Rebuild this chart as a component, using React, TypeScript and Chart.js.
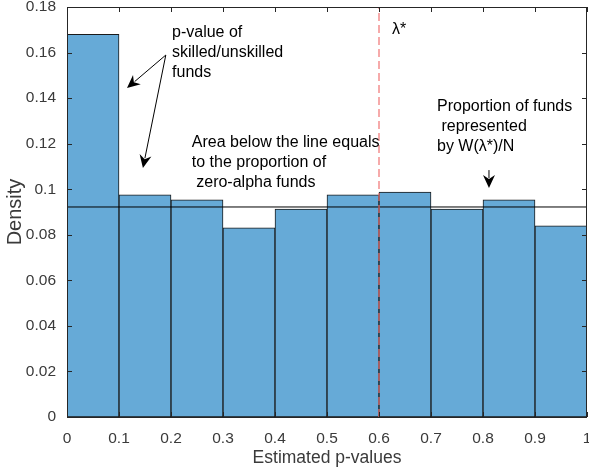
import React, { useEffect, useRef } from "react";
import { Chart, registerables } from "chart.js";

Chart.register(...registerables);

// ---- data ----
const binCenters = [0.05, 0.15, 0.25, 0.35, 0.45, 0.55, 0.65, 0.75, 0.85, 0.95];
const densities = [0.168, 0.0975, 0.0953, 0.083, 0.0913, 0.0975, 0.0988, 0.0913, 0.0953, 0.0839];
const zeroAlphaLevel = 0.0922;
const lambdaStar = 0.6;
const xTickRange = [0, 1];
const yTickRange = [0, 0.18];
const xTickStep = 0.1;
const yTickStep = 0.02;

// annotations in data coordinates
const textNotes = [
  { x: 0.202, y: 0.1686, lines: ["p-value of", "skilled/unskilled", "funds"] },
  { x: 0.24, y: 0.1203, lines: ["Area below the line equals", "to the proportion of", " zero-alpha funds"] },
  { x: 0.7115, y: 0.1361, lines: ["Proportion of funds", " represented", "by W(\u03bb*)/N"] },
  { x: 0.625, y: 0.1699, lines: ["\u03bb*"] },
];
const arrows = [
  { from: [0.19, 0.1589], to: [0.1154, 0.1444] },
  { from: [0.19, 0.1589], to: [0.146, 0.1093] },
  { from: [0.8115, 0.1084], to: [0.8115, 0.1005] },
];

const FONT = "'Liberation Sans', Arial, Helvetica, sans-serif";
const AXIS_COLOR = "#262626";
const LABEL_COLOR = "#3a3a3a";

const fmt = (v: number) => String(+Number(v).toFixed(2));

const framePlugin = {
  id: "frameAndNotes",
  afterDraw(chart: any) {
    const { ctx, chartArea } = chart;
    const xs = chart.scales.x;
    const ys = chart.scales.y;
    const { left, right, top, bottom } = chartArea;
    ctx.save();
    ctx.strokeStyle = AXIS_COLOR;
    ctx.lineWidth = 1;
    ctx.beginPath();
    ctx.rect(Math.round(left) + 0.5, Math.round(top) + 0.5, Math.round(right - left) - 1, Math.round(bottom - top));
    ctx.stroke();
    const tl = 5;
    ctx.beginPath();
    xs.ticks.forEach((t: any) => {
      const px = Math.round(xs.getPixelForValue(t.value)) + 0.5;
      ctx.moveTo(px, bottom);
      ctx.lineTo(px, bottom - tl);
      ctx.moveTo(px, top);
      ctx.lineTo(px, top + tl);
    });
    ys.ticks.forEach((t: any) => {
      const py = Math.round(ys.getPixelForValue(t.value)) + 0.5;
      ctx.moveTo(left, py);
      ctx.lineTo(left + tl, py);
      ctx.moveTo(right, py);
      ctx.lineTo(right - tl, py);
    });
    ctx.stroke();

    ctx.fillStyle = "#000";
    ctx.font = `16px ${FONT}`;
    ctx.textAlign = "left";
    ctx.textBaseline = "middle";
    textNotes.forEach((n) => {
      const px = xs.getPixelForValue(n.x);
      const py = ys.getPixelForValue(n.y);
      n.lines.forEach((line, i) => ctx.fillText(line, px, py + i * 20));
    });

    ctx.strokeStyle = "#000";
    ctx.fillStyle = "#000";
    arrows.forEach((a) => {
      const x1 = xs.getPixelForValue(a.from[0]);
      const y1 = ys.getPixelForValue(a.from[1]);
      const x2 = xs.getPixelForValue(a.to[0]);
      const y2 = ys.getPixelForValue(a.to[1]);
      const ang = Math.atan2(y2 - y1, x2 - x1);
      const hl = 13;
      const hw = 6;
      const bx = x2 - hl * Math.cos(ang);
      const by = y2 - hl * Math.sin(ang);
      ctx.beginPath();
      ctx.moveTo(x1, y1);
      ctx.lineTo(bx + 3 * Math.cos(ang), by + 3 * Math.sin(ang));
      ctx.stroke();
      const nx = -Math.sin(ang);
      const ny = Math.cos(ang);
      ctx.beginPath();
      ctx.moveTo(x2, y2);
      ctx.lineTo(bx + nx * hw, by + ny * hw);
      ctx.lineTo(bx + 4 * Math.cos(ang), by + 4 * Math.sin(ang));
      ctx.lineTo(bx - nx * hw, by - ny * hw);
      ctx.closePath();
      ctx.fill();
    });
    ctx.restore();
  },
};

export default function App() {
  const ref = useRef<HTMLCanvasElement>(null);
  useEffect(() => {
    document.body.style.margin = "0";
    const canvas = ref.current!;
    const chart = new Chart(canvas, {
      type: "bar",
      data: {
        datasets: [
          {
            type: "line",
            data: [
              { x: xTickRange[0], y: zeroAlphaLevel },
              { x: xTickRange[1], y: zeroAlphaLevel },
            ],
            borderColor: "#000",
            borderWidth: 1,
            pointRadius: 0,
            fill: false,
            order: 1,
          } as any,
          {
            type: "line",
            data: [
              { x: lambdaStar, y: yTickRange[0] },
              { x: lambdaStar, y: yTickRange[1] },
            ],
            borderColor: "#f07272",
            borderWidth: 1.2,
            borderDash: [8, 4],
            pointRadius: 0,
            fill: false,
            order: 0,
          } as any,
          {
            type: "bar",
            data: binCenters.map((x, i) => ({ x, y: densities[i] })),
            backgroundColor: "rgb(102,170,215)",
            borderColor: "#1a1a1a",
            borderWidth: 1,
            borderSkipped: false,
            barPercentage: 1,
            categoryPercentage: 1,
            order: 3,
          } as any,
        ],
      },
      options: {
        animation: false,
        responsive: false,
        maintainAspectRatio: false,
        layout: { padding: { left: 0, right: 2, top: 7, bottom: 0 } },
        plugins: {
          legend: { display: false },
          tooltip: { enabled: false },
        },
        scales: {
          x: {
            type: "linear",
            offset: false,
            min: xTickRange[0],
            max: xTickRange[1],
            grid: { display: false },
            border: { display: false },
            ticks: {
              stepSize: xTickStep,
              padding: 4,
              color: LABEL_COLOR,
              font: { family: FONT, size: 15.5 },
              maxRotation: 0,
              autoSkip: false,
              callback: (v: any) => fmt(v),
            },
            title: {
              display: true,
              text: "Estimated p-values",
              color: LABEL_COLOR,
              font: { family: FONT, size: 17.5 },
              padding: 2.5,
            },
            afterFit: (s: any) => {
              s.height = 54;
              s.paddingLeft = 0;
              s.paddingRight = 0;
            },
          },
          y: {
            min: yTickRange[0],
            max: yTickRange[1],
            grid: { display: false },
            border: { display: false },
            ticks: {
              stepSize: yTickStep,
              padding: 3,
              color: LABEL_COLOR,
              font: { family: FONT, size: 15.5 },
              autoSkip: false,
              callback: (v: any) => fmt(v),
            },
            title: {
              display: true,
              text: "Density",
              color: LABEL_COLOR,
              font: { family: FONT, size: 20 },
              padding: 3,
            },
            afterFit: (s: any) => {
              s.width = 67;
              s.paddingTop = 0;
              s.paddingBottom = 0;
            },
          },
        },
      },
      plugins: [framePlugin],
    });
    return () => chart.destroy();
  }, []);
  return (
    <div style={{ position: "absolute", left: 0, top: 0, width: 589, height: 471 }}>
      <canvas ref={ref} width={589} height={471} />
    </div>
  );
}
